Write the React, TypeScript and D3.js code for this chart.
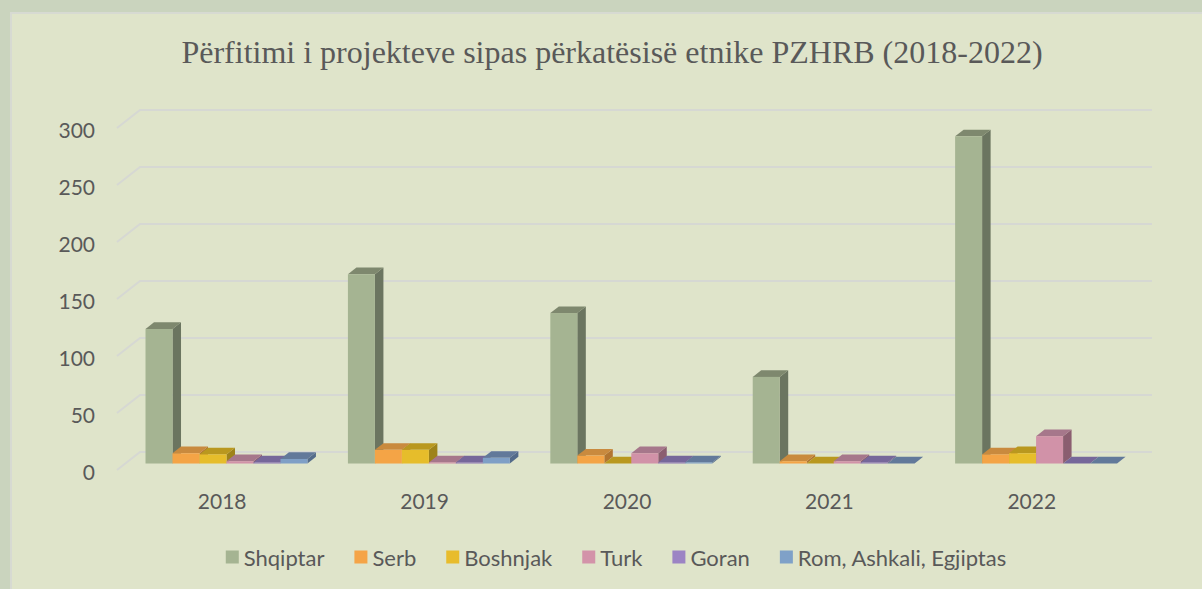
import React, { useEffect, useRef } from 'react';
import * as d3 from 'd3';

const W = 1202;
const H = 589;

const titleText = 'Përfitimi i projekteve sipas përkatësisë etnike PZHRB (2018-2022)';
const years = ['2018', '2019', '2020', '2021', '2022'];
const seriesNames = ['Shqiptar', 'Serb', 'Boshnjak', 'Turk', 'Goran', 'Rom, Ashkali, Egjiptas'];
const shqiptar = [118, 166, 132, 76, 287];
const serb = [9, 12, 7, 2, 8];
const boshnjak = [8, 12, 0, 0, 9];
const turk = [2, 1, 9, 2, 24];
const goran = [1, 1, 1, 1, 0];
const rom = [4, 5, 1, 0, 0];
const yTicks = [0, 50, 100, 150, 200, 250, 300];

const seriesValues = [shqiptar, serb, boshnjak, turk, goran, rom];
const frontColors = ['#a5b492', '#f4a446', '#e6bd2b', '#d192a8', '#8f79b4', '#7f9fc6'];
const topColors = ['#7e886e', '#c98a3e', '#b9981f', '#a6778b', '#76679a', '#62799a'];
const sideColors = ['#6b7560', '#b27530', '#9e831a', '#8b5e70', '#655887', '#546b8a'];
const legendColors = ['#a5b492', '#f5a447', '#e8bc2c', '#d393a9', '#9c84c4', '#7fa1c8'];

export default function App() {
  const ref = useRef<SVGSVGElement>(null);
  useEffect(() => {
    const svg = d3.select(ref.current);
    svg.selectAll('*').remove();
    const font = 'Lato, "Open Sans", sans-serif';
    const textColor = '#595959';

    svg.append('rect').attr('width', W).attr('height', H).attr('fill', '#cad4be');
    svg.append('rect').attr('x', 11).attr('y', 13).attr('width', W).attr('height', H)
      .attr('fill', '#dfe4ca').attr('stroke', '#d7dad2').attr('stroke-width', 2);

    svg.append('text').attr('x', 612).attr('y', 63).attr('text-anchor', 'middle')
      .attr('font-family', '"Liberation Serif", "Times New Roman", serif').attr('font-size', 32)
      .attr('fill', textColor).text(titleText);

    const y = d3.scaleLinear().domain([0, 300]).range([470, 128]);
    const x0 = d3.scaleBand().domain(years).range([117, 1129]).paddingInner(0.2).paddingOuter(0.1);
    const x1 = d3.scaleBand().domain(seriesNames).range([0, x0.bandwidth()]);
    const DX = 23, DY = -18;
    const bf = 0.36, bb = 0.73;
    const left = 117, right = 1129;

    // gridlines: side wall + back wall
    const grid = svg.append('g');
    yTicks.forEach((t) => {
      const yf = y(t);
      grid.append('path')
        .attr('d', `M${left},${yf}L${left + DX},${yf + DY}L${right + DX},${yf + DY}`)
        .attr('fill', 'none').attr('stroke', '#d6d8d3').attr('stroke-width', 2);
    });

    // y labels
    svg.append('g').selectAll('text').data(yTicks).join('text')
      .attr('x', 95).attr('y', (d) => y(d) + 1).attr('text-anchor', 'end')
      .attr('dominant-baseline', 'central')
      .attr('font-family', font).attr('font-size', 21).attr('fill', textColor)
      .text((d) => String(d));

    // bars
    const bars = svg.append('g');
    const ddx = DX * (bb - bf), ddy = DY * (bb - bf);
    years.forEach((yr, i) => {
      seriesNames.forEach((s, j) => {
        const v = seriesValues[j][i];
        const xl = (x0(yr) as number) + (x1(s) as number) + DX * bf;
        const xr = xl + x1.bandwidth();
        const yb = y(0) + DY * bf;
        const yt = y(v) + DY * bf;
        const g = bars.append('g');
        g.append('path')
          .attr('d', `M${xr},${yb}L${xr + ddx},${yb + ddy}L${xr + ddx},${yt + ddy}L${xr},${yt}Z`)
          .attr('fill', sideColors[j]);
        g.append('path')
          .attr('d', `M${xl},${yt}L${xr},${yt}L${xr + ddx},${yt + ddy}L${xl + ddx},${yt + ddy}Z`)
          .attr('fill', topColors[j]);
        g.append('rect').attr('x', xl).attr('y', yt).attr('width', xr - xl).attr('height', Math.max(0, yb - yt))
          .attr('fill', frontColors[j]);
      });
    });

    // category labels
    svg.append('g').selectAll('text').data(years).join('text')
      .attr('x', (d) => (x0(d) as number) + x0.bandwidth() / 2 + 4).attr('y', 500)
      .attr('text-anchor', 'middle').attr('dominant-baseline', 'central')
      .attr('font-family', font).attr('font-size', 21).attr('fill', textColor)
      .text((d) => d);

    // legend
    const lg = svg.append('g');
    const items = seriesNames.map((name, j) => {
      const it = lg.append('g');
      it.append('rect').attr('x', 0).attr('y', -6.5).attr('width', 13).attr('height', 13).attr('fill', legendColors[j]);
      const t = it.append('text').attr('x', 18).attr('y', 0).attr('dominant-baseline', 'central')
        .attr('font-family', font).attr('font-size', 22).attr('fill', textColor).text(name);
      const w = 18 + (t.node() as SVGTextElement).getComputedTextLength();
      return { it, w };
    });
    const gap = 30;
    const total = items.reduce((a, b) => a + b.w, 0) + gap * (items.length - 1);
    let cx = 616 - total / 2;
    items.forEach(({ it, w }) => {
      it.attr('transform', `translate(${cx},557)`);
      cx += w + gap;
    });
  }, []);
  return (
    <svg ref={ref} width={W} height={H} style={{ position: 'absolute', left: 0, top: 0, display: 'block' }} />
  );
}
